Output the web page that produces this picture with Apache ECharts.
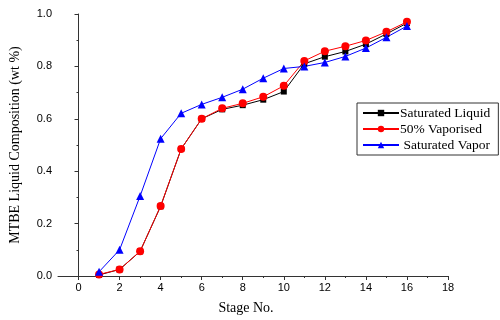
<!DOCTYPE html>
<html>
<head>
<meta charset="utf-8">
<script src="https://cdn.jsdelivr.net/npm/echarts@6/dist/echarts.min.js"></script>
<style>
  html, body { margin: 0; padding: 0; background: #fff; }
  #chart { width: 500px; height: 320px; }
</style>
</head>
<body>
<div id="chart"></div>
<script>
  // stage numbers and compositions
  var stages = [1, 2, 3, 4, 5, 6, 7, 8, 9, 10, 11, 12, 13, 14, 15, 16];
  var satLiquid = [0.004, 0.025, 0.094, 0.266, 0.485, 0.600, 0.636, 0.652, 0.673, 0.704, 0.810, 0.837, 0.857, 0.885, 0.924, 0.965];
  var halfVapor = [0.006, 0.025, 0.094, 0.267, 0.485, 0.600, 0.640, 0.659, 0.684, 0.726, 0.821, 0.858, 0.877, 0.899, 0.932, 0.970];
  var satVapor = [0.016, 0.100, 0.305, 0.524, 0.621, 0.655, 0.682, 0.713, 0.755, 0.792, 0.800, 0.815, 0.838, 0.870, 0.911, 0.954];
  var xMajor = [0, 2, 4, 6, 8, 10, 12, 14, 16, 18];
  var xMinor = [1, 3, 5, 7, 9, 11, 13, 15, 17];

  function pairs(ys) {
    return stages.map(function (s, i) { return [s, ys[i]]; });
  }

  var axisColor = '#333';
  var serif = '"Liberation Serif", "DejaVu Serif", serif';
  var sans = '"Liberation Sans", Arial, sans-serif';

  var chart = echarts.init(document.getElementById('chart'));
  chart.setOption({
    animation: false,
    grid: { left: 53, right: 52, top: 14, bottom: 43 },
    legend: {
      orient: 'vertical',
      left: 357,
      top: 103,
      padding: [3, 8, 3, 5],
      itemGap: 2,
      itemWidth: 36,
      itemHeight: 8,
      borderColor: '#333',
      borderWidth: 1,
      textStyle: { fontFamily: serif, fontSize: 13.5, color: '#000', padding: [0, 0, 0, -4] },
      data: ['Saturated Liquid', '50% Vaporised', ' Saturated Vapor']
    },
    xAxis: [{
      type: 'value',
      min: -1,
      max: 18,
      name: 'Stage No.',
      nameLocation: 'middle',
      nameGap: 25,
      nameTextStyle: { fontFamily: serif, fontSize: 14, color: '#000', padding: [0, 14, 0, 0] },
      axisLine: { lineStyle: { color: axisColor, width: 1 } },
      axisTick: { show: true, customValues: xMajor, length: 4, lineStyle: { color: axisColor } },
      axisLabel: { customValues: xMajor, fontFamily: sans, fontSize: 11, color: '#000', margin: 6 },
      splitLine: { show: false }
    }, {
      type: 'value',
      min: -1,
      max: 18,
      position: 'bottom',
      axisLine: { show: false },
      axisTick: { show: true, customValues: xMinor, length: 2, lineStyle: { color: axisColor } },
      axisLabel: { show: false },
      splitLine: { show: false }
    }],
    yAxis: {
      type: 'value',
      min: 0,
      max: 1,
      interval: 0.2,
      name: 'MTBE Liquid Composition (wt %)',
      nameLocation: 'middle',
      nameGap: 36,
      nameTextStyle: { fontFamily: serif, fontSize: 14, color: '#000' },
      axisLine: { show: true, lineStyle: { color: axisColor, width: 1 } },
      axisTick: { show: true, length: 4, lineStyle: { color: axisColor } },
      minorTick: { show: true, splitNumber: 2, length: 2, lineStyle: { color: axisColor } },
      axisLabel: {
        fontFamily: sans, fontSize: 11, color: '#000', margin: 6,
        formatter: function (v) { return v.toFixed(1); }
      },
      splitLine: { show: false }
    },
    series: [{
      name: 'Saturated Liquid',
      type: 'line',
      data: pairs(satLiquid),
      symbol: 'rect',
      symbolSize: 6,
      itemStyle: { color: '#000' },
      lineStyle: { color: '#000', width: 1 }
    }, {
      name: '50% Vaporised',
      type: 'line',
      data: pairs(halfVapor),
      symbol: 'circle',
      symbolSize: 8,
      itemStyle: { color: '#ff0000' },
      lineStyle: { color: '#ff0000', width: 1 }
    }, {
      name: ' Saturated Vapor',
      type: 'line',
      data: pairs(satVapor),
      symbol: 'triangle',
      symbolSize: 8,
      itemStyle: { color: '#0000ff' },
      lineStyle: { color: '#0000ff', width: 1 }
    }]
  });
</script>
</body>
</html>
